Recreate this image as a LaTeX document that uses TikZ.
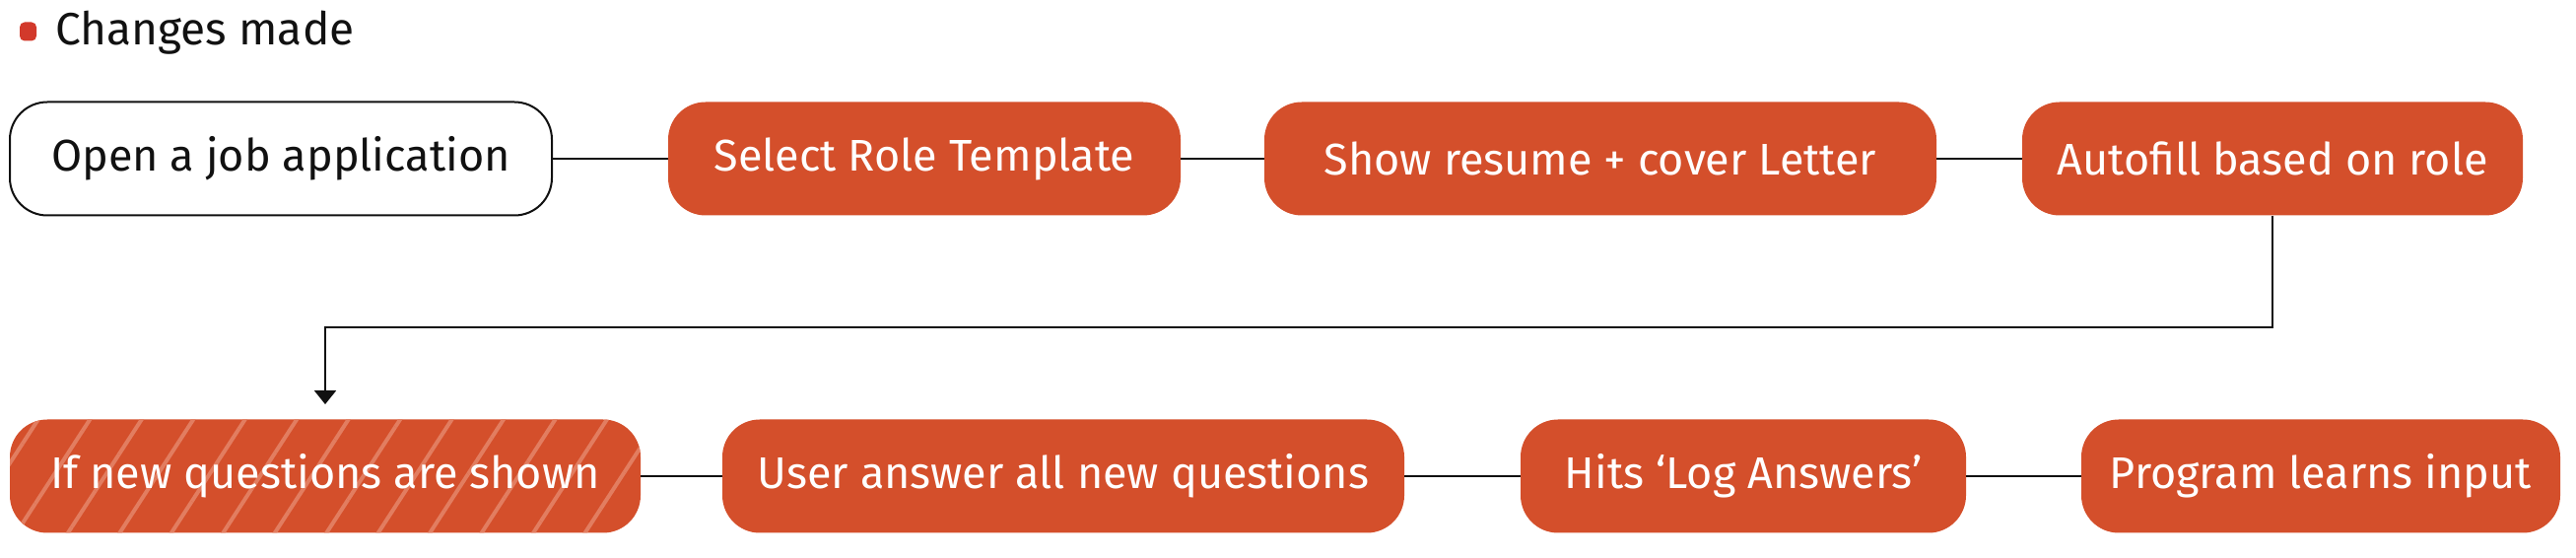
\documentclass[tikz,border=0pt]{standalone}
\usepackage{fontspec}
\setmainfont{Fira Sans}
\usetikzlibrary{patterns.meta,arrows.meta}
\definecolor{chg}{HTML}{D44F2B}
\definecolor{hatchc}{HTML}{E27D60}
\definecolor{dotred}{HTML}{D2392B}
\definecolor{ink}{HTML}{111111}
\begin{document}
\begin{tikzpicture}[x=0.5pt,y=-0.5pt,
  box/.style={rounded corners=19pt, minimum height=57.5pt, inner sep=0pt,
    font=\fontsize{22.5}{26}\selectfont},
  changed/.style={box, fill=chg, text=white},
  plainbox/.style={box, draw=ink, line width=1pt, fill=white, text=ink},
  hatched/.style={changed, postaction={pattern={Lines[angle=57,distance=22pt,line width=2pt]}, pattern color=hatchc}},
  link/.style={draw=ink, line width=1pt},
  legdot/.style={fill=dotred, rounded corners=2.5pt, minimum width=8.5pt, minimum height=9.5pt, inner sep=0pt},
  legtext/.style={anchor=west, inner sep=0pt, text=ink, font=\fontsize{23}{27}\selectfont}]
\useasboundingbox (0,0) rectangle (2614,566);
% legend
\node[legdot] (ld) at (28.5,32) {};
\node[legtext] (lt) at (56,33) {Changes made};
% row 1
\node[plainbox, minimum width=275pt] (b1) at (285,161) {Open a job application};
\node[changed, minimum width=260pt] (b2) at (938,161) {Select Role Template};
\node[changed, minimum width=341pt] (b3) at (1624,161) {Show resume + cover Letter};
\node[changed, minimum width=254pt] (b4) at (2306,161) {Autofill based on role};
% row 2
\node[hatched, minimum width=320pt] (b5) at (330,483) {If new questions are shown};
\node[changed, minimum width=346pt] (b6) at (1079,483) {User answer all new questions};
\node[changed, minimum width=226pt] (b7) at (1769,483) {Hits ‘Log Answers’};
\node[changed, minimum width=243pt] (b8) at (2355,483) {Program learns input};
\coordinate (turn) at (0,332);
% connectors
\draw[link] (b1) -- (b2);
\draw[link] (b2) -- (b3);
\draw[link] (b3) -- (b4);
\draw[link, -{Triangle[width=11pt,length=7pt]}, shorten >=7.5pt] (b4.south) -- (b4.south |- turn) -| (b5.north);
\draw[link] (b5) -- (b6);
\draw[link] (b6) -- (b7);
\draw[link] (b7) -- (b8);
\end{tikzpicture}
\end{document}
